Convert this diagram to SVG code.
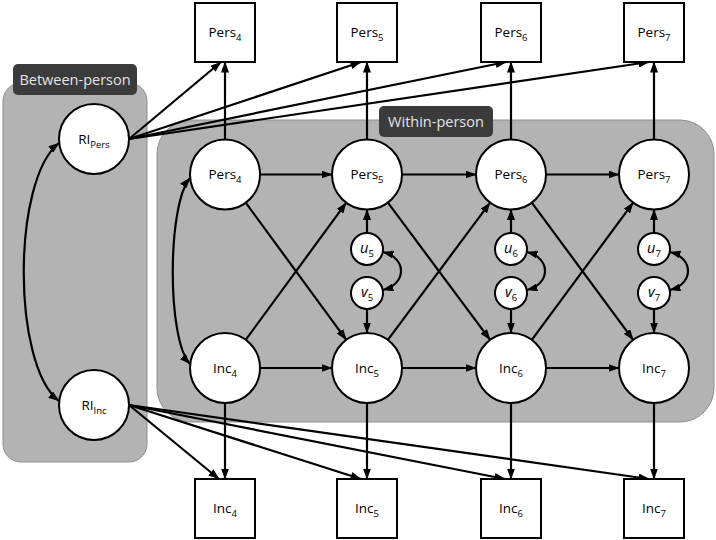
<svg xmlns="http://www.w3.org/2000/svg" width="716" height="540" viewBox="0 0 716 540">
<style>
.panel{fill:#b3b3b3;stroke:#8e8e8e;stroke-width:1}
.tag{fill:#3b3b3b}
.tagt{fill:#e4e4e4;font-family:"Open Sans","DejaVu Sans",sans-serif;font-size:14.5px;text-anchor:middle}
.node{fill:#fff;stroke:#000;stroke-width:2}
.lbl{font-family:"Open Sans","DejaVu Sans",sans-serif;font-size:13.5px;text-anchor:middle;fill:#000}
.sub{font-size:9.5px}
.it{font-style:italic;font-size:14.5px}
.c{fill:none;stroke:#000;stroke-width:2.2;marker-end:url(#ah)}
.b{fill:none;stroke:#000;stroke-width:2.2;marker-start:url(#ah);marker-end:url(#ah)}
</style>
<defs>
<marker id="ah" viewBox="0 0 11 8" refX="10.5" refY="4" markerWidth="11" markerHeight="8" markerUnits="userSpaceOnUse" orient="auto-start-reverse">
<path d="M0,0 L11,4 L0,8 z" fill="#000"/>
</marker>
</defs>

<g id="between-panel">
<rect class="panel" x="3" y="83" width="144" height="379" rx="18"/>
<rect class="tag" x="13" y="64" width="124" height="31" rx="5"/>
<text class="tagt" x="75" y="85">Between-person</text>
</g>
<g id="within-panel">
<rect class="panel" x="157" y="120" width="557" height="302" rx="34"/>
<rect class="tag" x="379" y="106" width="114" height="31" rx="5"/>
<text class="tagt" x="436" y="127">Within-person</text>
</g>

<g id="connectors">
<path class="c" d="M129,139 L221,62"/>
<path class="c" d="M129,139 L361,62"/>
<path class="c" d="M129,139 L506,62"/>
<path class="c" d="M129,139 L649,62"/>
<path class="c" d="M129,405 L219,479"/>
<path class="c" d="M129,405 L361,479"/>
<path class="c" d="M129,405 L505,479"/>
<path class="c" d="M129,405 L649,479"/>
<path class="b" d="M59,143 C12,180 12,365 59,401"/>
<path class="c" d="M225,139.5 L225,62"/>
<path class="c" d="M367,139.5 L367,62"/>
<path class="c" d="M511,139.5 L511,62"/>
<path class="c" d="M654,139.5 L654,62"/>
<path class="c" d="M225,403 L225,479"/>
<path class="c" d="M367,403 L367,479"/>
<path class="c" d="M511,403 L511,479"/>
<path class="c" d="M654,403 L654,479"/>
<path class="c" d="M260,174.5 L332,174.5"/>
<path class="c" d="M402,174.5 L476,174.5"/>
<path class="c" d="M546,174.5 L619,174.5"/>
<path class="c" d="M260,368 L332,368"/>
<path class="c" d="M402,368 L476,368"/>
<path class="c" d="M546,368 L619,368"/>
<path class="c" d="M245.7,202.7 L346.3,339.8"/>
<path class="c" d="M245.7,339.8 L346.3,202.7"/>
<path class="c" d="M387.9,202.6 L490.1,339.9"/>
<path class="c" d="M387.9,339.9 L490.1,202.6"/>
<path class="c" d="M531.8,202.6 L633.2,339.9"/>
<path class="c" d="M531.8,339.9 L633.2,202.6"/>
<path class="b" d="M190,178 C167,205 167,340 190,364"/>
<path class="c" d="M367,233 L367,209.5"/>
<path class="c" d="M511,233 L511,209.5"/>
<path class="c" d="M654,233 L654,209.5"/>
<path class="c" d="M367,309 L367,333"/>
<path class="c" d="M511,309 L511,333"/>
<path class="c" d="M654,309 L654,333"/>
<path class="b" d="M383,252 C407,258 407,284 383,290"/>
<path class="b" d="M527,252 C551,258 551,284 527,290"/>
<path class="b" d="M670,252 C694,258 694,284 670,290"/>
</g>

<g id="ri-pers"><circle class="node" cx="94" cy="139" r="35"/><text class="lbl" x="94" y="144">RI<tspan class="sub" dy="4">Pers</tspan></text></g>
<g id="ri-inc"><circle class="node" cx="94" cy="405" r="35"/><text class="lbl" x="94" y="410">RI<tspan class="sub" dy="4">Inc</tspan></text></g>

<g id="obs-pers4"><rect class="node" x="195" y="3" width="60" height="59"/><text class="lbl" x="225" y="37">Pers<tspan class="sub" dy="4">4</tspan></text></g>
<g id="obs-pers5"><rect class="node" x="337" y="3" width="60" height="59"/><text class="lbl" x="367" y="37">Pers<tspan class="sub" dy="4">5</tspan></text></g>
<g id="obs-pers6"><rect class="node" x="481" y="3" width="60" height="59"/><text class="lbl" x="511" y="37">Pers<tspan class="sub" dy="4">6</tspan></text></g>
<g id="obs-pers7"><rect class="node" x="624" y="3" width="60" height="59"/><text class="lbl" x="654" y="37">Pers<tspan class="sub" dy="4">7</tspan></text></g>

<g id="obs-inc4"><rect class="node" x="195" y="479" width="60" height="59"/><text class="lbl" x="225" y="513">Inc<tspan class="sub" dy="4">4</tspan></text></g>
<g id="obs-inc5"><rect class="node" x="337" y="479" width="60" height="59"/><text class="lbl" x="367" y="513">Inc<tspan class="sub" dy="4">5</tspan></text></g>
<g id="obs-inc6"><rect class="node" x="481" y="479" width="60" height="59"/><text class="lbl" x="511" y="513">Inc<tspan class="sub" dy="4">6</tspan></text></g>
<g id="obs-inc7"><rect class="node" x="624" y="479" width="60" height="59"/><text class="lbl" x="654" y="513">Inc<tspan class="sub" dy="4">7</tspan></text></g>

<g id="pers4"><circle class="node" cx="225" cy="174.5" r="35"/><text class="lbl" x="225" y="179">Pers<tspan class="sub" dy="4">4</tspan></text></g>
<g id="pers5"><circle class="node" cx="367" cy="174.5" r="35"/><text class="lbl" x="367" y="179">Pers<tspan class="sub" dy="4">5</tspan></text></g>
<g id="pers6"><circle class="node" cx="511" cy="174.5" r="35"/><text class="lbl" x="511" y="179">Pers<tspan class="sub" dy="4">6</tspan></text></g>
<g id="pers7"><circle class="node" cx="654" cy="174.5" r="35"/><text class="lbl" x="654" y="179">Pers<tspan class="sub" dy="4">7</tspan></text></g>

<g id="inc4"><circle class="node" cx="225" cy="368" r="35"/><text class="lbl" x="225" y="373">Inc<tspan class="sub" dy="4">4</tspan></text></g>
<g id="inc5"><circle class="node" cx="367" cy="368" r="35"/><text class="lbl" x="367" y="373">Inc<tspan class="sub" dy="4">5</tspan></text></g>
<g id="inc6"><circle class="node" cx="511" cy="368" r="35"/><text class="lbl" x="511" y="373">Inc<tspan class="sub" dy="4">6</tspan></text></g>
<g id="inc7"><circle class="node" cx="654" cy="368" r="35"/><text class="lbl" x="654" y="373">Inc<tspan class="sub" dy="4">7</tspan></text></g>

<g id="u5"><circle class="node" cx="367" cy="249" r="16"/><text class="lbl" x="367" y="253"><tspan class="it">u</tspan><tspan class="sub" dy="4">5</tspan></text></g>
<g id="u6"><circle class="node" cx="511" cy="249" r="16"/><text class="lbl" x="511" y="253"><tspan class="it">u</tspan><tspan class="sub" dy="4">6</tspan></text></g>
<g id="u7"><circle class="node" cx="654" cy="249" r="16"/><text class="lbl" x="654" y="253"><tspan class="it">u</tspan><tspan class="sub" dy="4">7</tspan></text></g>
<g id="v5"><circle class="node" cx="367" cy="293" r="16"/><text class="lbl" x="367" y="297"><tspan class="it">v</tspan><tspan class="sub" dy="4">5</tspan></text></g>
<g id="v6"><circle class="node" cx="511" cy="293" r="16"/><text class="lbl" x="511" y="297"><tspan class="it">v</tspan><tspan class="sub" dy="4">6</tspan></text></g>
<g id="v7"><circle class="node" cx="654" cy="293" r="16"/><text class="lbl" x="654" y="297"><tspan class="it">v</tspan><tspan class="sub" dy="4">7</tspan></text></g>
</svg>
